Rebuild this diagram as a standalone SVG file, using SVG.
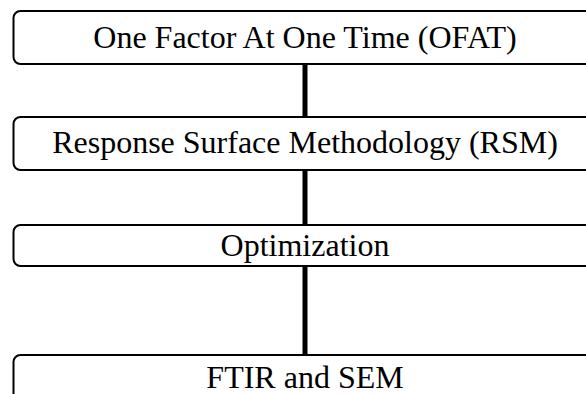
<svg xmlns="http://www.w3.org/2000/svg" width="586" height="394" viewBox="0 0 586 394">
  <style>
    .box { fill: #ffffff; stroke: #000000; stroke-width: 2; }
    .label { font-family: "Liberation Serif", "Times New Roman", serif; font-size: 32px; fill: #000000; text-anchor: middle; }
    .link { stroke: #000000; stroke-width: 5; fill: none; }
  </style>
  <rect width="586" height="394" fill="#ffffff"/>
  <!-- vertical links between the stacked steps -->
  <g id="connectors">
    <line class="link" x1="305" y1="64" x2="305" y2="117"/>
    <line class="link" x1="305" y1="170" x2="305" y2="225"/>
    <line class="link" x1="305" y1="266" x2="305" y2="355"/>
  </g>
  <!-- steps: boxes run past the right and bottom edges -->
  <g id="ofat">
    <rect class="box" x="13.5" y="11" width="600" height="53" rx="7"/>
    <text class="label" x="305" y="48">One Factor At One Time (OFAT)</text>
  </g>
  <g id="rsm">
    <rect class="box" x="13.5" y="117" width="600" height="53" rx="7"/>
    <text class="label" x="305" y="153">Response Surface Methodology (RSM)</text>
  </g>
  <g id="optimization">
    <rect class="box" x="13.5" y="225" width="600" height="41" rx="7"/>
    <text class="label" x="305" y="256">Optimization</text>
  </g>
  <g id="ftir-sem">
    <rect class="box" x="13.5" y="355" width="600" height="60" rx="7"/>
    <text class="label" x="305" y="388">FTIR and SEM</text>
  </g>
</svg>
